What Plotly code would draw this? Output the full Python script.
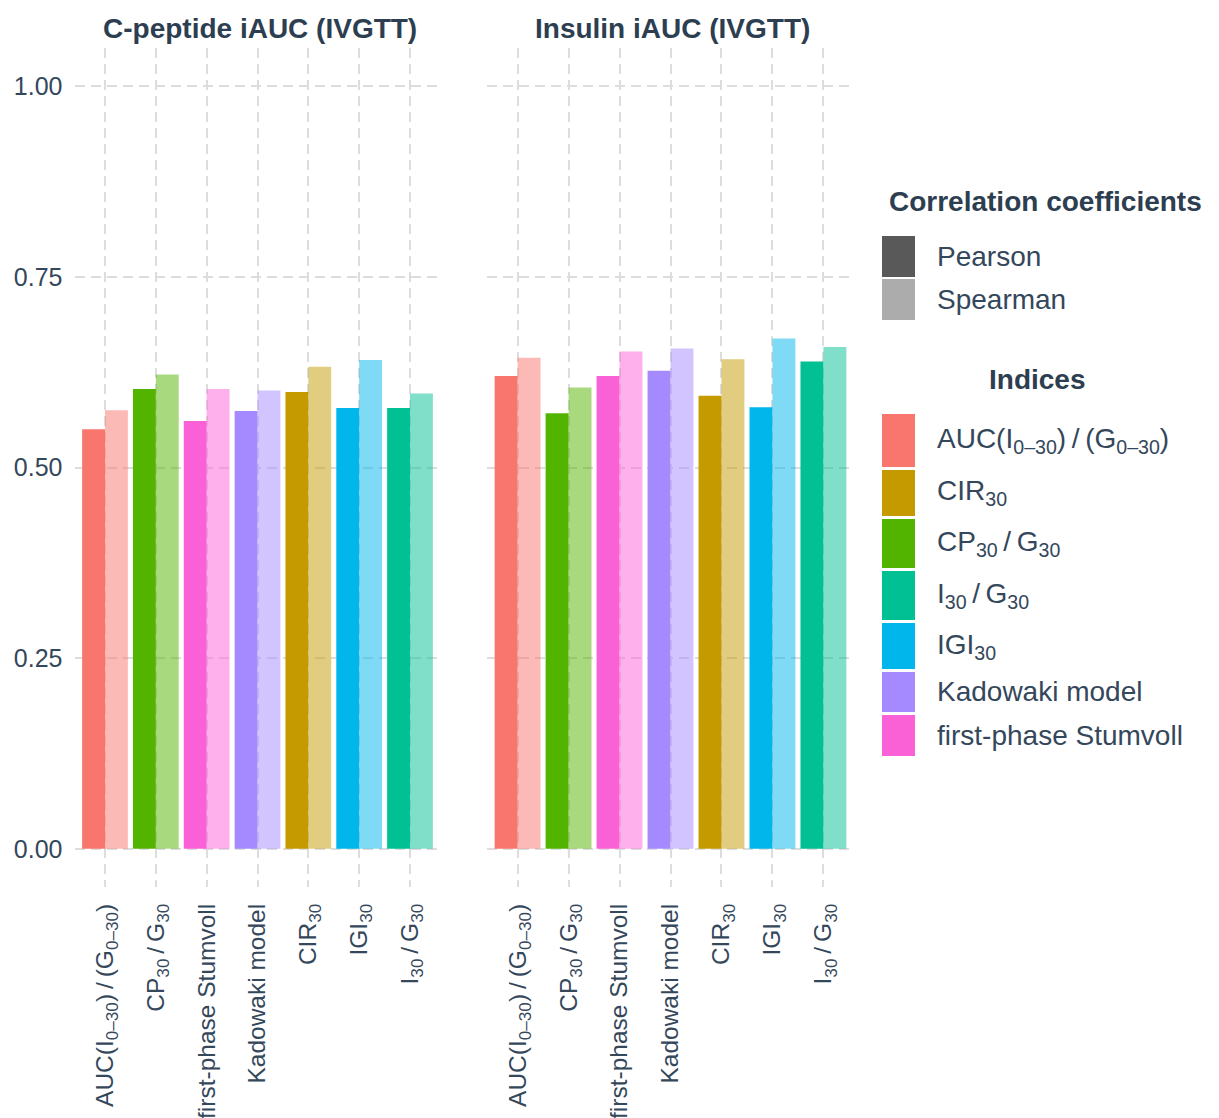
import plotly.graph_objects as go

SL = "\u2009/\u2009"  # slash with thin spacing, as in the math labels

# Index labels in plotting order (x axis of each panel)
categories = [
    f"AUC(I<sub>0–30</sub>){SL}(G<sub>0–30</sub>)",
    f"CP<sub>30</sub>{SL}G<sub>30</sub>",
    "first-phase Stumvoll",
    "Kadowaki model",
    "CIR<sub>30</sub>",
    "IGI<sub>30</sub>",
    f"I<sub>30</sub>{SL}G<sub>30</sub>",
]

# Correlation of each index with C-peptide iAUC (IVGTT)
cpep_pearson = [0.550, 0.603, 0.561, 0.574, 0.599, 0.578, 0.578]
cpep_spearman = [0.575, 0.622, 0.603, 0.601, 0.632, 0.641, 0.597]

# Correlation of each index with insulin iAUC (IVGTT)
ins_pearson = [0.620, 0.571, 0.620, 0.627, 0.594, 0.579, 0.639]
ins_spearman = [0.644, 0.605, 0.652, 0.656, 0.642, 0.669, 0.658]

panel_titles = ["C-peptide iAUC (IVGTT)", "Insulin iAUC (IVGTT)"]
coef_names = ["Pearson", "Spearman"]

y_ticks = [0.0, 0.25, 0.5, 0.75, 1.0]
y_tick_text = ["0.00", "0.25", "0.50", "0.75", "1.00"]

# Legend order of the indices and their hue colours
legend_indices = [
    f"AUC(I<sub>0–30</sub>){SL}(G<sub>0–30</sub>)",
    "CIR<sub>30</sub>",
    f"CP<sub>30</sub>{SL}G<sub>30</sub>",
    f"I<sub>30</sub>{SL}G<sub>30</sub>",
    "IGI<sub>30</sub>",
    "Kadowaki model",
    "first-phase Stumvoll",
]
legend_colors = ["#F8766D", "#C49A00", "#53B400", "#00C094", "#00B6EB", "#A58AFF", "#FB61D7"]
color_of = dict(zip(legend_indices, legend_colors))

W, H = 1219, 1118
FONT = "Liberation Sans, Arial, Helvetica, sans-serif"
TEXT = "#34475B"
TITLE = "#2C3E50"
GRID = "#DDDDDD"


def px(x):
    return x / W


def py(y):
    return 1 - y / H


def rgba(hex_color, a):
    h = hex_color.lstrip("#")
    r, g, b = int(h[0:2], 16), int(h[2:4], 16), int(h[4:6], 16)
    return f"rgba({r},{g},{b},{a})"


fig = go.Figure()

bar_colors = [color_of[c] for c in categories]
panels = [(cpep_pearson, cpep_spearman), (ins_pearson, ins_spearman)]
for i, (pear, spear) in enumerate(panels):
    xa = "x" if i == 0 else "x2"
    ya = "y" if i == 0 else "y2"
    fig.add_trace(go.Bar(
        x=categories, y=pear, name=coef_names[0], xaxis=xa, yaxis=ya,
        marker=dict(color=bar_colors, line=dict(width=0)), showlegend=False,
    ))
    fig.add_trace(go.Bar(
        x=categories, y=spear, name=coef_names[1], xaxis=xa, yaxis=ya,
        marker=dict(color=[rgba(c, 0.5) for c in bar_colors], line=dict(width=0)),
        showlegend=False,
    ))

plot_top, plot_bottom = 48, 887
x_domains = [(74.5, 440.5), (487, 854)]

common_x = dict(
    type="category", categoryorder="array", categoryarray=categories,
    tickangle=-90, tickfont=dict(family=FONT, size=24.5, color=TEXT),
    showgrid=True, gridcolor=GRID, gridwidth=1.6, griddash="10px,6px",
    ticks="outside", ticklen=6, tickcolor="rgba(0,0,0,0)",
    showline=False, zeroline=False, range=[-0.6, 6.6],
)
common_y = dict(
    range=[-0.05, 1.05], tickvals=y_ticks, ticktext=y_tick_text,
    tickfont=dict(family=FONT, size=25, color=TEXT),
    showgrid=True, gridcolor=GRID, gridwidth=1.6, griddash="10px,6px",
    zeroline=False, showline=False,
    domain=[py(plot_bottom), py(plot_top)],
    ticks="outside", ticklen=6, tickcolor="rgba(0,0,0,0)",
)

fig.update_layout(
    width=W, height=H,
    margin=dict(l=0, r=0, t=0, b=0),
    paper_bgcolor="white", plot_bgcolor="white",
    barmode="group", bargap=0.1, bargroupgap=0,
    font=dict(family=FONT, color=TEXT),
    xaxis=dict(common_x, domain=[px(x_domains[0][0]), px(x_domains[0][1])], anchor="y"),
    xaxis2=dict(common_x, domain=[px(x_domains[1][0]), px(x_domains[1][1])], anchor="y2"),
    yaxis=dict(common_y, anchor="x"),
    yaxis2=dict(common_y, anchor="x2", showticklabels=False),
)

annotations = []
shapes = []

# Panel strip titles
for (x0, x1), t in zip(x_domains, panel_titles):
    annotations.append(dict(
        x=px((x0 + x1) / 2 + 2), y=py(28), xref="paper", yref="paper",
        text=f"<b>{t}</b>", showarrow=False, xanchor="center", yanchor="middle",
        font=dict(family=FONT, size=28, color=TITLE),
    ))

# Legend: correlation coefficient type
annotations.append(dict(
    x=px(1045), y=py(201), xref="paper", yref="paper",
    text="<b>Correlation coefficients</b>", showarrow=False,
    xanchor="center", yanchor="middle",
    font=dict(family=FONT, size=28, color=TITLE),
))
coef_keys = [(236, 277, "#595959"), (279, 320, "#ACACAC")]
for (y0, y1, col), name in zip(coef_keys, coef_names):
    shapes.append(dict(type="rect", xref="paper", yref="paper",
                       x0=px(882), x1=px(915), y0=py(y1), y1=py(y0),
                       fillcolor=col, line=dict(width=0)))
    annotations.append(dict(
        x=px(935), y=py((y0 + y1) / 2), xref="paper", yref="paper",
        text=name, showarrow=False, xanchor="left", yanchor="middle",
        font=dict(family=FONT, size=28, color=TEXT),
    ))

# Legend: indices
annotations.append(dict(
    x=px(1037), y=py(379), xref="paper", yref="paper",
    text="<b>Indices</b>", showarrow=False, xanchor="center", yanchor="middle",
    font=dict(family=FONT, size=28, color=TITLE),
))
index_keys = [(414, 467), (470, 516), (519, 568), (571, 620), (623, 669), (672, 712), (715, 756)]
for (y0, y1), name, col in zip(index_keys, legend_indices, legend_colors):
    shapes.append(dict(type="rect", xref="paper", yref="paper",
                       x0=px(882), x1=px(915), y0=py(y1), y1=py(y0),
                       fillcolor=col, line=dict(width=0)))
    annotations.append(dict(
        x=px(935), y=py((y0 + y1) / 2), xref="paper", yref="paper",
        text=name, showarrow=False, xanchor="left", yanchor="middle",
        font=dict(family=FONT, size=28, color=TEXT),
    ))

fig.update_layout(annotations=annotations, shapes=shapes)

fig.write_html("out.html")
